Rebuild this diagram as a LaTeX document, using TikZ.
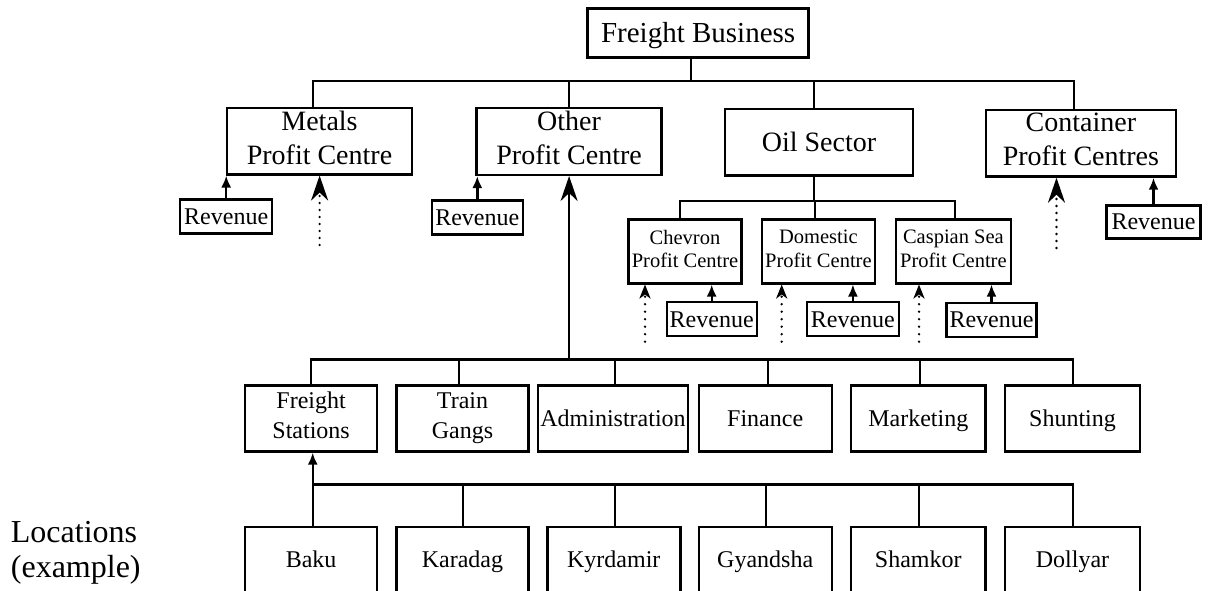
\documentclass[tikz,border=0pt]{standalone}
\usepackage{fontspec}
\setmainfont{Liberation Serif}
\usetikzlibrary{arrows.meta}
\begin{document}
\begin{tikzpicture}[x=1pt,y=-1pt,
  box/.style={draw, line width=2.4pt, inner sep=0pt, align=center,
    execute at begin node={\rule{0pt}{0.91em}}, execute at end node={\rule[-0.25em]{0pt}{0.25em}}},
  topbox/.style={box, font=\fontsize{28}{34}\selectfont, minimum height=66.6pt},
  subbox/.style={box, font=\fontsize{20.5}{23.3}\selectfont, minimum width=114pt, minimum height=64pt},
  revbox/.style={box, font=\fontsize{24}{28}\selectfont, minimum height=34pt},
  midbox/.style={box, font=\fontsize{24}{30}\selectfont, minimum height=66pt},
  conn/.style={line width=2.4pt},
  revarrow/.style={line width=2.4pt, -{Latex[length=12pt,width=10pt]}},
  bigarrow/.style={line width=2.4pt, -{Stealth[length=25pt,width=17pt,inset=8pt]}},
  dotbig/.style={line width=2.6pt, line cap=round, dash pattern=on 0pt off 7pt, -{Stealth[length=25pt,width=17pt,inset=8pt]}},
  dotsmall/.style={line width=2.6pt, line cap=round, dash pattern=on 0pt off 7.5pt, -{Stealth[length=14pt,width=11pt,inset=4pt]}}
]
\useasboundingbox (0,0) rectangle (1212,590);

% top
\node[box, font=\fontsize{29}{33}\selectfont, minimum width=221pt, minimum height=49pt] (fb) at (698.1,33) {Freight Business};
\node[topbox, minimum width=185pt] (metals) at (319.5,141) {Metals\\Profit Centre};
\node[topbox, minimum width=185pt] (other) at (569.1,141.5) {Other\\Profit Centre};
\node[topbox, minimum width=188pt] (oil) at (819,142) {Oil Sector};
\node[topbox, minimum width=190pt] (cont) at (1080.9,143.2) {Container\\Profit Centres};

% revenue of first level
\node[revbox, minimum width=92pt] (revM) at (226.2,216.3) {Revenue};
\node[revbox, minimum width=91pt] (revO) at (477.3,217.5) {Revenue};
\node[revbox, minimum width=94pt, minimum height=33pt] (revC) at (1153.5,222) {Revenue};

% oil sub centres
\node[subbox, minimum width=113pt] (chev) at (685,251.3) {Chevron\\Profit Centre};
\node[subbox, minimum width=113pt] (dom) at (818.4,251.3) {Domestic\\Profit Centre};
\node[subbox, minimum width=115pt] (casp) at (953.4,251.3) {Caspian Sea\\Profit Centre};
\node[revbox, minimum width=90pt] (revCh) at (711.7,319.2) {Revenue};
\node[revbox, minimum width=92pt] (revD) at (852.9,319.2) {Revenue};
\node[revbox, minimum width=90pt] (revCa) at (991.5,319.7) {Revenue};

% second row
\node[midbox, minimum width=132pt] (fs) at (311.1,418.4) {Freight\\Stations};
\node[midbox, minimum width=132pt] (tg) at (462.5,418.4) {Train\\Gangs};
\node[midbox, minimum width=150pt] (adm) at (613,418.4) {Administration};
\node[midbox, minimum width=133pt] (fin) at (765.2,418.4) {Finance};
\node[midbox, minimum width=134.6pt] (mkt) at (918.3,418.4) {Marketing};
\node[midbox, minimum width=134.6pt] (shu) at (1072.5,418.4) {Shunting};

% bottom row
\node[midbox, minimum width=132pt] (baku) at (311.1,559.7) {Baku};
\node[midbox, minimum width=132pt] (kara) at (462.5,559.7) {Karadag};
\node[midbox, minimum width=133pt] (kyr) at (613.8,559.7) {Kyrdamir};
\node[midbox, minimum width=133pt] (gya) at (765.2,559.7) {Gyandsha};
\node[midbox, minimum width=134.6pt] (sha) at (918.3,559.7) {Shamkor};
\node[midbox, minimum width=134.6pt] (dol) at (1072.5,559.7) {Dollyar};

\node[font=\fontsize{32}{35}\selectfont, align=left, anchor=west, inner sep=0pt] (loc) at (10.7,553) {Locations\\(example)};

% top bus
\draw[conn] (691,0 |- fb.south) -- (691,81);
\draw[conn] (313,0 |- metals.north) -- (313,81) -- (1074,81) -- (1074,0 |- cont.north);
\draw[conn] (other.north) -- (other.north |- 0,81);
\draw[conn] (814,0 |- oil.north) -- (814,81);

% oil bus
\draw[conn] (814,0 |- oil.south) -- (814,200.7);
\draw[conn] (680,0 |- chev.north) -- (680,200.7) -- (955,200.7) -- (955,0 |- casp.north);
\draw[conn] (815,0 |- dom.north) -- (815,200.7);

% revenue arrows
\draw[revarrow] (revM.north) -- (revM.north |- metals.south);
\draw[revarrow] (revO.north) -- (revO.north |- other.south);
\draw[revarrow] (revC.north) -- (revC.north |- cont.south);
\draw[revarrow] (revCh.north) -- (revCh.north |- chev.south);
\draw[revarrow] (revD.north) -- (revD.north |- dom.south);
\draw[revarrow] (revCa.north) -- (revCa.north |- casp.south);

% dotted arrows
\coordinate (dM) at (319.6,245);
\coordinate (dC) at (1056.5,248);
\coordinate (dCh) at (645,341.7);
\coordinate (dD) at (781.7,341.7);
\coordinate (dCa) at (919,341.7);
\draw[dotbig] (dM) -- (dM |- metals.south);
\draw[dotbig] (dC) -- (dC |- cont.south);
\draw[dotsmall] (dCh) -- (dCh |- chev.south);
\draw[dotsmall] (dD) -- (dD |- dom.south);
\draw[dotsmall] (dCa) -- (dCa |- casp.south);

% second bus
\draw[conn] (311,0 |- fs.north) -- (311,359.5) -- (1073,359.5) -- (1073,0 |- shu.north);
\draw[conn] (459,0 |- tg.north) -- (459,359.5);
\draw[conn] (615,0 |- adm.north) -- (615,359.5);
\draw[conn] (768,0 |- fin.north) -- (768,359.5);
\draw[conn] (920,0 |- mkt.north) -- (920,359.5);
\draw[bigarrow] (other.south |- 0,359.5) -- (other.south);

% lower bus
\draw[conn] (312.7,0 |- baku.north) -- (312.7,484.3) -- (1073,484.3) -- (1073,0 |- dol.north);
\draw[conn] (463,0 |- kara.north) -- (463,484.3);
\draw[conn] (615,0 |- kyr.north) -- (615,484.3);
\draw[conn] (766,0 |- gya.north) -- (766,484.3);
\draw[conn] (919,0 |- sha.north) -- (919,484.3);
\draw[revarrow] (312.7,484.3) -- (312.7,0 |- fs.south);
\end{tikzpicture}
\end{document}
